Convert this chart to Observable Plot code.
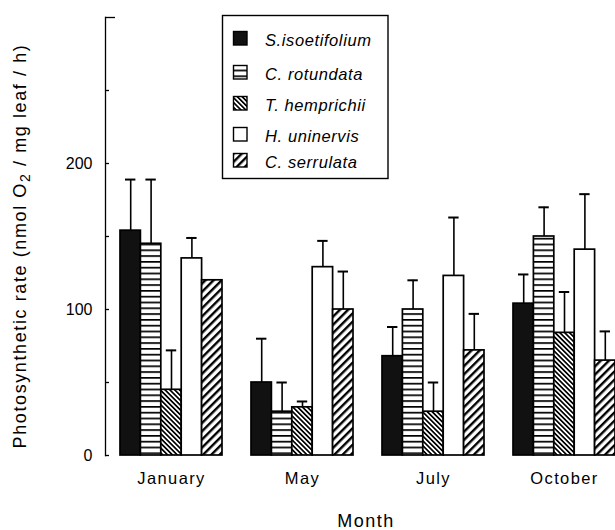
<!DOCTYPE html>
<html>
<head>
<meta charset="utf-8">
<script src="https://cdn.jsdelivr.net/npm/d3@7"></script>
<script src="https://cdn.jsdelivr.net/npm/@observablehq/plot@0.6"></script>
<style>
  body { margin: 0; background: #fff; }
  svg text { font-family: "Liberation Sans", Arial, sans-serif; }
  g[aria-label="x-axis tick label"] text { letter-spacing: 1.4px; }
</style>
</head>
<body>
<div id="chart"></div>
<script>
// ---- data ----
const months = ["January", "May", "July", "October"];
const species = ["S.isoetifolium", "C. rotundata", "T. hemprichii", "H. uninervis", "C. serrulata"];
// mean photosynthetic rate per month (January, May, July, October)
const sIsoetifolium = [154, 50, 68, 104];
const cRotundata    = [145, 30, 100, 150];
const tHemprichii   = [45, 33, 30, 84];
const hUninervis    = [135, 129, 123, 141];
const cSerrulata    = [120, 100, 72, 65];
// upper error (SE) per month; null = no bar drawn
const sIsoetifoliumErr = [35, 30, 20, 20];
const cRotundataErr    = [44, 20, 20, 20];
const tHemprichiiErr   = [27, 4, 20, 28];
const hUninervisErr    = [14, 18, 40, 38];
const cSerrulataErr    = [null, 26, 25, 20];
const yTicksLabeled = [0, 100, 200];
const yTicksMinor = [0, 50, 100, 150, 200, 250];
const xLabel = "Month";

const seriesValues = [sIsoetifolium, cRotundata, tHemprichii, hUninervis, cSerrulata];
const seriesErrors = [sIsoetifoliumErr, cRotundataErr, tHemprichiiErr, hUninervisErr, cSerrulataErr];

const rows = [];
species.forEach((s, i) => months.forEach((m, j) => rows.push({species: s, idx: i, month: m, value: seriesValues[i][j], err: seriesErrors[i][j]})));

// ---- layout ----
const W = 615, H = 530;
const groupLeft = 120, groupRight = 615;
const padInner = 29 / 131;
const bandW = (groupRight - groupLeft) / (months.length - padInner) * (1 - padInner);
const barW = bandW / species.length;
const fills = ["#111", "url(#hstripe)", "url(#bdiag)", "#fff", "url(#fdiag)"];

const marks = [
  Plot.frame({anchor: "left", strokeWidth: 1.3}),
  Plot.axisY({ticks: yTicksLabeled, tickSize: 0, tickPadding: 13, fontSize: 16, label: null}),
  Plot.axisY({ticks: yTicksMinor, tickSize: -4, tickFormat: () => "", label: null, strokeWidth: 1.3}),
  Plot.axisY({ticks: [300], tickSize: -10, tickFormat: () => "", label: null, strokeWidth: 1.3}),
  Plot.axisX({tickSize: 0, tickPadding: 17, fontSize: 16.5, label: null})
];
species.forEach((s, i) => {
  const data = rows.filter(d => d.idx === i);
  marks.push(Plot.barY(data, {
    x: "month", y: "value", fill: fills[i], stroke: "#000", strokeWidth: 1.7,
    insetLeft: i * barW, insetRight: (species.length - 1 - i) * barW
  }));
});
species.forEach((s, i) => {
  const data = rows.filter(d => d.idx === i && d.err != null);
  marks.push(Plot.ruleX(data, {
    x: "month", y1: "value", y2: d => d.value + d.err, dx: (i - 2) * barW, strokeWidth: 1.6
  }));
  marks.push(Plot.tickY(data, {
    x: "month", y: d => d.value + d.err, strokeWidth: 2,
    insetLeft: i * barW + 5, insetRight: (species.length - 1 - i) * barW + 5
  }));
});

const chart = Plot.plot({
  width: W, height: H,
  marginLeft: 105, marginRight: 0, marginTop: 17, marginBottom: 75,
  style: {background: "#fff", color: "#000", fontFamily: "Liberation Sans, Arial, sans-serif"},
  x: {domain: months, range: [groupLeft, groupRight], paddingInner: padInner, paddingOuter: 0, align: 0},
  y: {domain: [0, 300]},
  marks
});

const NS = "http://www.w3.org/2000/svg";
chart.insertAdjacentHTML("afterbegin", `
<defs>
  <pattern id="hstripe" patternUnits="userSpaceOnUse" width="6" height="5.8">
    <rect width="6" height="5.8" fill="#fff"/>
    <rect y="0" width="6" height="1.7" fill="#000"/>
  </pattern>
  <pattern id="bdiag" patternUnits="userSpaceOnUse" width="3.4" height="3.4" patternTransform="rotate(-45)">
    <rect width="3.4" height="3.4" fill="#fff"/>
    <rect width="1.7" height="3.4" fill="#000"/>
  </pattern>
  <pattern id="fdiag" patternUnits="userSpaceOnUse" width="5.8" height="5.8" patternTransform="rotate(45)">
    <rect width="5.8" height="5.8" fill="#fff"/>
    <rect width="2.4" height="5.8" fill="#000"/>
  </pattern>
</defs>`);

// legend
const lg = document.createElementNS(NS, "g");
lg.setAttribute("text-anchor", "start");
let html = `<rect x="222.5" y="15.5" width="165.5" height="163" fill="#fff" stroke="#000" stroke-width="1.4"/>`;
const rowY = [31, 65, 96, 127, 153];
species.forEach((s, i) => {
  html += `<rect x="233.5" y="${rowY[i] + 0.5}" width="13.5" height="13.5" fill="${fills[i]}" stroke="#000" stroke-width="1.4"/>`;
  html += `<text x="265" y="${rowY[i] + 15}" text-anchor="start" font-size="16.5" font-style="italic" letter-spacing="0.6" fill="#000">${s}</text>`;
});
lg.innerHTML = html;
chart.appendChild(lg);

// axis titles
const yt = document.createElementNS(NS, "text");
yt.setAttribute("transform", "rotate(-90)");
yt.setAttribute("x", -246);
yt.setAttribute("y", 26);
yt.setAttribute("text-anchor", "middle");
yt.setAttribute("font-size", "18");
yt.setAttribute("letter-spacing", "1.6");
yt.setAttribute("fill", "#000");
yt.innerHTML = `Photosynthetic rate (nmol O<tspan font-size="14" dy="4">2</tspan><tspan dy="-4"> / mg leaf / h)</tspan>`;
chart.appendChild(yt);

const xt = document.createElementNS(NS, "text");
xt.setAttribute("x", 366);
xt.setAttribute("y", 527);
xt.setAttribute("text-anchor", "middle");
xt.setAttribute("font-size", "18");
xt.setAttribute("letter-spacing", "1.5");
xt.setAttribute("fill", "#000");
xt.textContent = xLabel;
chart.appendChild(xt);

document.getElementById("chart").appendChild(chart);
</script>
</body>
</html>
